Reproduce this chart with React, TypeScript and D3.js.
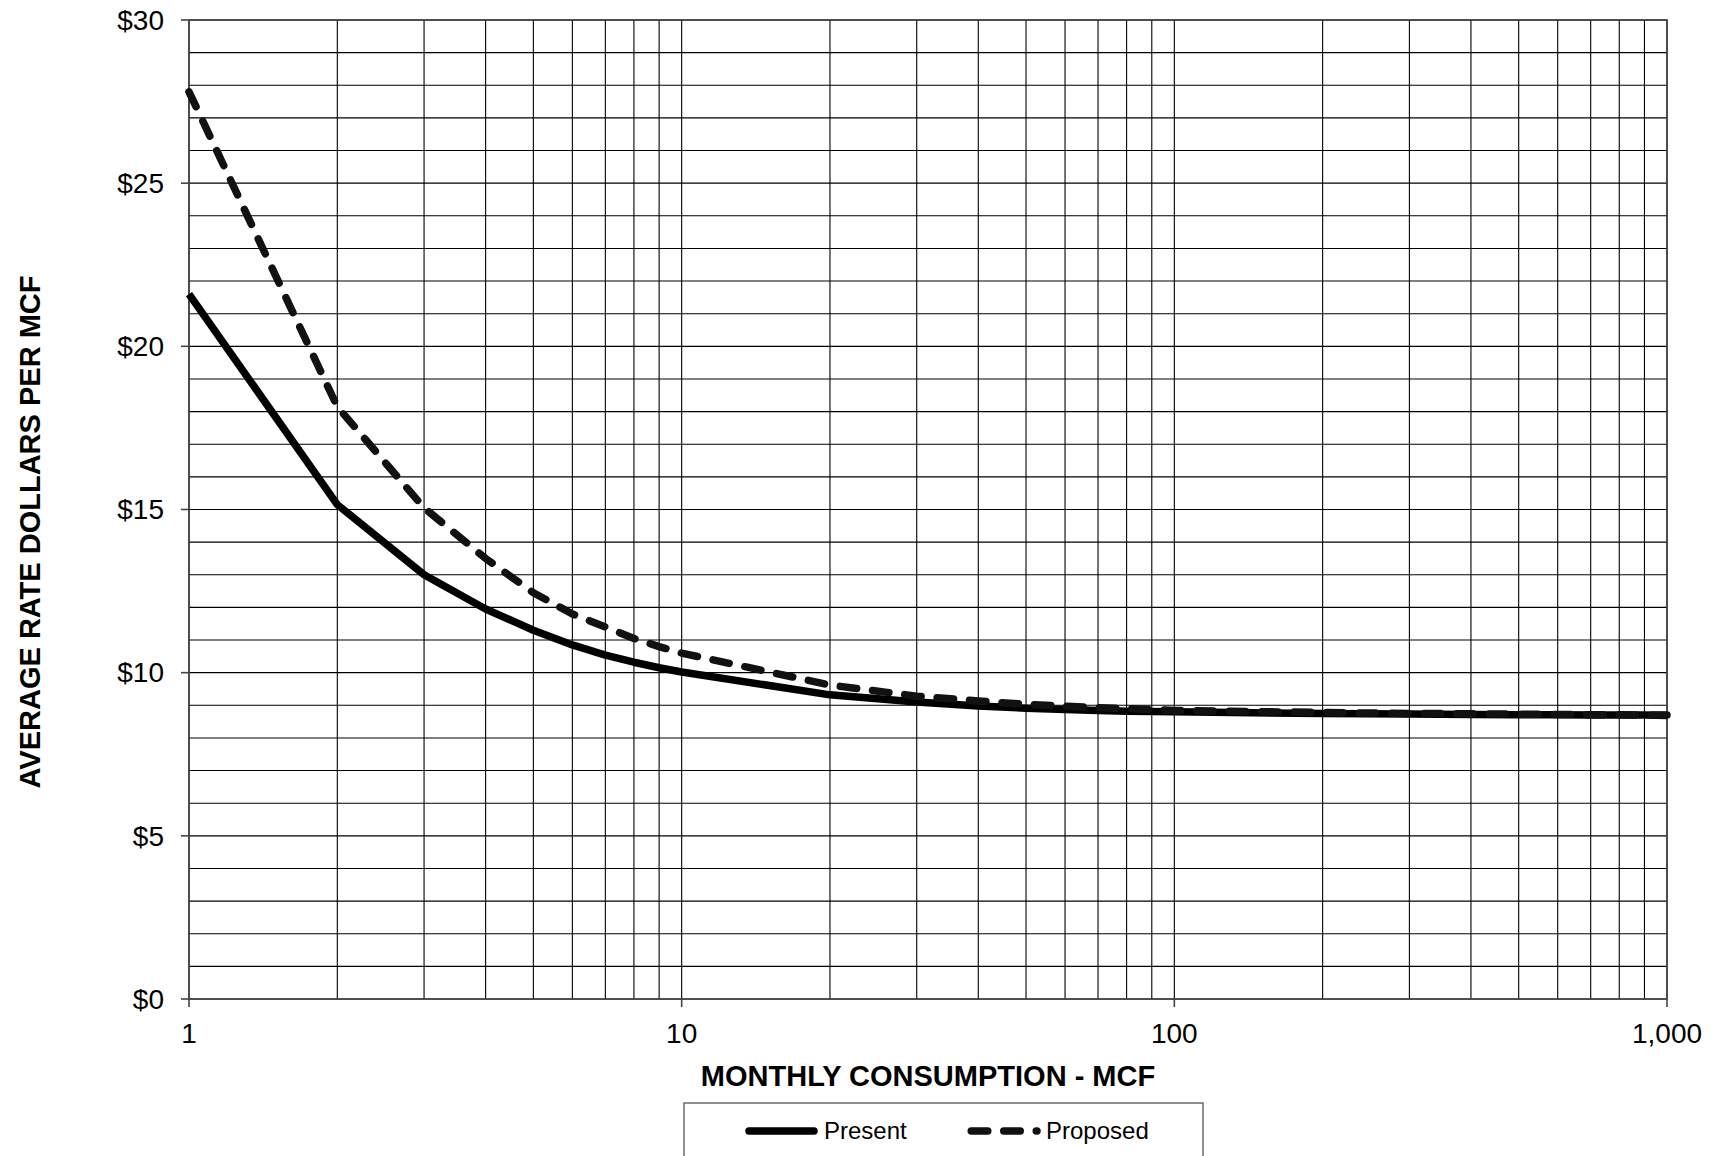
import React from 'react';
import * as d3 from 'd3';

// monthly consumption (MCF) at which the average rate was read
const consumption = [1, 2, 3, 4, 5, 6, 7, 8, 9, 10, 20, 30, 40, 50, 60, 70, 80, 90, 100, 200, 300, 400, 500, 600, 700, 800, 900, 1000];
const present = [21.6, 15.15, 13.0, 11.95, 11.3, 10.85, 10.54, 10.32, 10.15, 10.02, 9.32, 9.1, 8.98, 8.91, 8.87, 8.84, 8.82, 8.81, 8.8, 8.75, 8.73, 8.72, 8.71, 8.71, 8.7, 8.7, 8.7, 8.69];
const proposed = [27.8, 18.15, 15.05, 13.5, 12.45, 11.8, 11.4, 11.05, 10.8, 10.6, 9.62, 9.28, 9.13, 9.03, 8.97, 8.93, 8.9, 8.87, 8.84, 8.78, 8.75, 8.74, 8.73, 8.72, 8.71, 8.71, 8.7, 8.7];

const xTicks = [1, 10, 100, 1000];
const yTicks = [0, 5, 10, 15, 20, 25, 30];
const seriesNames = ['Present', 'Proposed'];

const W = 1718;
const H = 1156;
const font = 'Liberation Sans, Arial, Helvetica, sans-serif';
const lw = 7.5;
const dash = '16.5 16';

export default function App() {
  const x = d3.scaleLog().domain([1, 1000]).range([189, 1667]);
  const y = d3.scaleLinear().domain([0, 30]).range([999, 20]);

  const line = d3.line<number>()
    .x((_, i) => x(consumption[i]))
    .y(d => y(d));

  // minor grid: 1..9, 10..90, 100..900, 1000
  const xGrid: number[] = [];
  for (let p = 1; p < 1000; p *= 10) {
    for (let k = 1; k < 10; k++) xGrid.push(k * p);
  }
  xGrid.push(1000);
  const yGrid = d3.range(0, 31, 1);

  const [x0, x1] = x.range();
  const [y0, y1] = y.range();

  return (
    <svg width={W} height={H} style={{ position: 'absolute', left: 0, top: 0, display: 'block' }}
      fontFamily={font}>
      <rect width={W} height={H} fill="#fff" />

      {yGrid.map(v => (
        <line key={'h' + v} x1={x0} x2={x1} y1={y(v)} y2={y(v)} stroke="#000" strokeWidth={1.1} />
      ))}
      {xGrid.map(v => (
        <line key={'v' + v} x1={x(v)} x2={x(v)} y1={y0} y2={y1} stroke="#000" strokeWidth={1.1} />
      ))}
      <rect x={x0} y={y1} width={x1 - x0} height={y0 - y1} fill="none" stroke="#444" strokeWidth={1.6} />

      {yTicks.map(v => (
        <g key={'yt' + v}>
          <line x1={x0 - 8} x2={x0} y1={y(v)} y2={y(v)} stroke="#444" strokeWidth={1.6} />
          <text x={x0 - 25} y={y(v)} dy="0.35em" textAnchor="end" fontSize={28} fill="#000">
            ${v}
          </text>
        </g>
      ))}
      {xTicks.map(v => (
        <g key={'xt' + v}>
          <line x1={x(v)} x2={x(v)} y1={y0} y2={y0 + 8} stroke="#444" strokeWidth={1.6} />
          <text x={x(v)} y={1043} textAnchor="middle" fontSize={28} fill="#000">
            {d3.format(',')(v)}
          </text>
        </g>
      ))}

      <path d={line(present) ?? ''} fill="none" stroke="#000" strokeWidth={lw}
        strokeLinejoin="round" />
      <path d={line(proposed) ?? ''} fill="none" stroke="#111" strokeWidth={lw}
        strokeDasharray={dash} strokeLinecap="round" strokeLinejoin="round" />

      <text x={928} y={1086} textAnchor="middle" fontSize={29} fontWeight="bold" fill="#000">
        MONTHLY CONSUMPTION - MCF
      </text>
      <text transform="translate(40,532) rotate(-90)" textAnchor="middle" fontSize={29}
        fontWeight="bold" fill="#000">
        AVERAGE RATE DOLLARS PER MCF
      </text>

      <rect x={684} y={1103} width={519} height={70} fill="#fff" stroke="#555" strokeWidth={1.3} />
      <line x1={749} x2={814} y1={1131} y2={1131} stroke="#000" strokeWidth={lw} strokeLinecap="round" />
      <text x={824} y={1139} fontSize={24} fill="#000">{seriesNames[0]}</text>
      <line x1={971.25} x2={1037} y1={1131} y2={1131} stroke="#111" strokeWidth={lw}
        strokeDasharray={dash} strokeLinecap="round" />
      <text x={1046} y={1139} fontSize={24} fill="#000">{seriesNames[1]}</text>
    </svg>
  );
}
